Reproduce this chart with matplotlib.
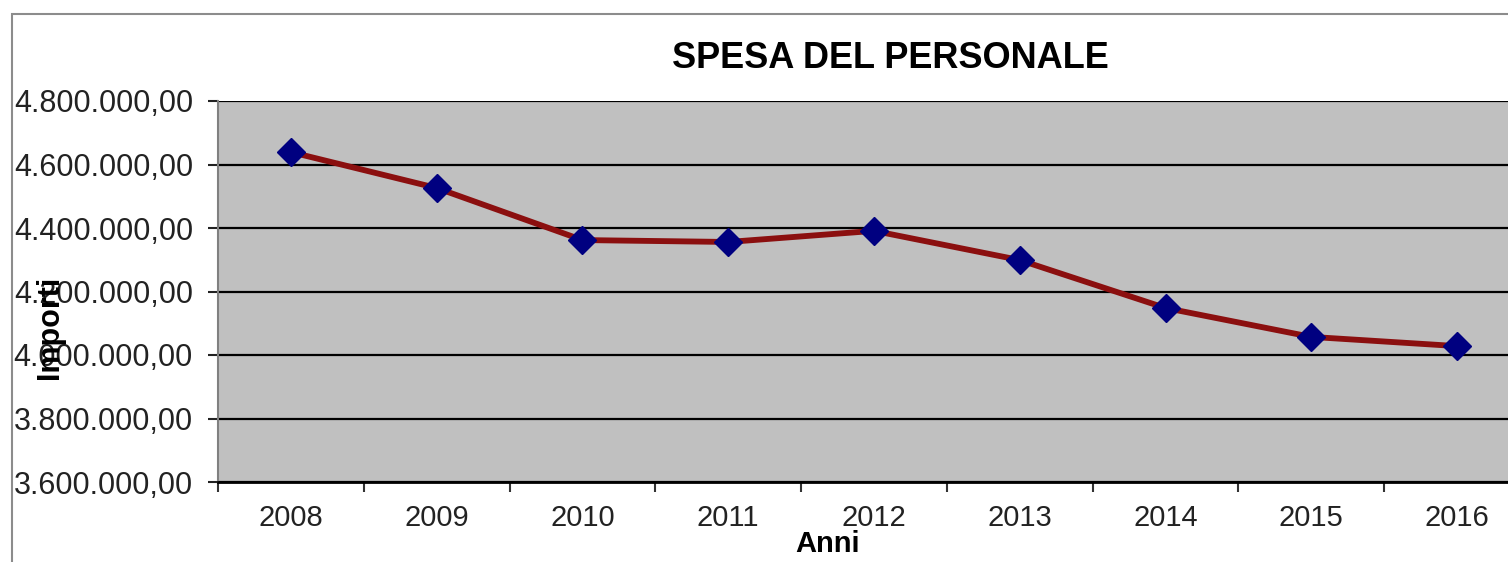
import matplotlib
matplotlib.use("Agg")
import matplotlib.pyplot as plt
from matplotlib.ticker import FuncFormatter, FixedLocator
from matplotlib.patches import Rectangle

plt.rcParams['font.family'] = ['Liberation Sans', 'DejaVu Sans']

years = ['2008', '2009', '2010', '2011', '2012', '2013', '2014', '2015', '2016']
spesa = [4639000, 4526000, 4362000, 4356000, 4391000, 4299000, 4148000, 4057000, 4028000]
y_ticks = [3600000, 3800000, 4000000, 4200000, 4400000, 4600000, 4800000]

W, H = 1508, 562
fig = plt.figure(figsize=(W/100, H/100), dpi=100)
fig.patch.set_facecolor('white')

# outer chart border
fig.patches.append(Rectangle((12/W, -0.2), 1.2, 1.2 - 14/H, transform=fig.transFigure,
                             fill=False, edgecolor='#8c8c8c', linewidth=1.5, zorder=0))

ax = fig.add_axes([218/W, 1 - 482/H, 1312/W, (482 - 101)/H])
ax.set_facecolor('#c0c0c0')

x = list(range(len(years)))
ax.plot(x, spesa, color='#8b0f0f', linewidth=4.2, zorder=3)
ax.plot(x, spesa, linestyle='none', marker='D', markersize=14,
        markerfacecolor='#000080', markeredgecolor='#000080', zorder=4)

ax.set_xlim(-0.5, len(years) - 0.5)
ax.set_ylim(3600000, 4800000)

def fmt(v, pos):
    s = f"{v:,.2f}"
    return s.replace(',', 'X').replace('.', ',').replace('X', '.')

ax.yaxis.set_major_locator(FixedLocator(y_ticks))
ax.yaxis.set_major_formatter(FuncFormatter(fmt))
ax.set_xticks(x)
ax.set_xticklabels(years)
ax.set_xticks([i + 0.5 for i in range(-1, len(years))], minor=True)
ax.tick_params(axis='x', which='major', length=0, pad=16, labelsize=21, colors='#222222')
ax.tick_params(axis='x', which='minor', length=7, width=1.5, direction='out', color='#333333')
ax.tick_params(axis='y', which='major', length=7, width=1.5, direction='out', pad=11,
               labelsize=22, colors='#222222')

ax.grid(axis='y', color='black', linewidth=1.6, zorder=1)
ax.set_axisbelow(True)

ax.spines['left'].set_color('#808080')
ax.spines['left'].set_linewidth(1.5)
ax.spines['bottom'].set_color('black')
ax.spines['bottom'].set_linewidth(2)
ax.spines['top'].set_visible(False)
ax.spines['right'].set_visible(False)

fig.text(890/W, 1 - 58/H, 'SPESA DEL PERSONALE', ha='center', va='center',
         fontsize=26, fontweight='bold', color='black')
fig.text(828/W, 1 - 544/H, 'Anni', ha='center', va='center',
         fontsize=21, fontweight='bold', color='black')
fig.text(50/W, 1 - 327/H, 'Importi', ha='center', va='center', rotation=90,
         fontsize=22, fontweight='bold', color='black')

fig.savefig('out.png', dpi=100)
